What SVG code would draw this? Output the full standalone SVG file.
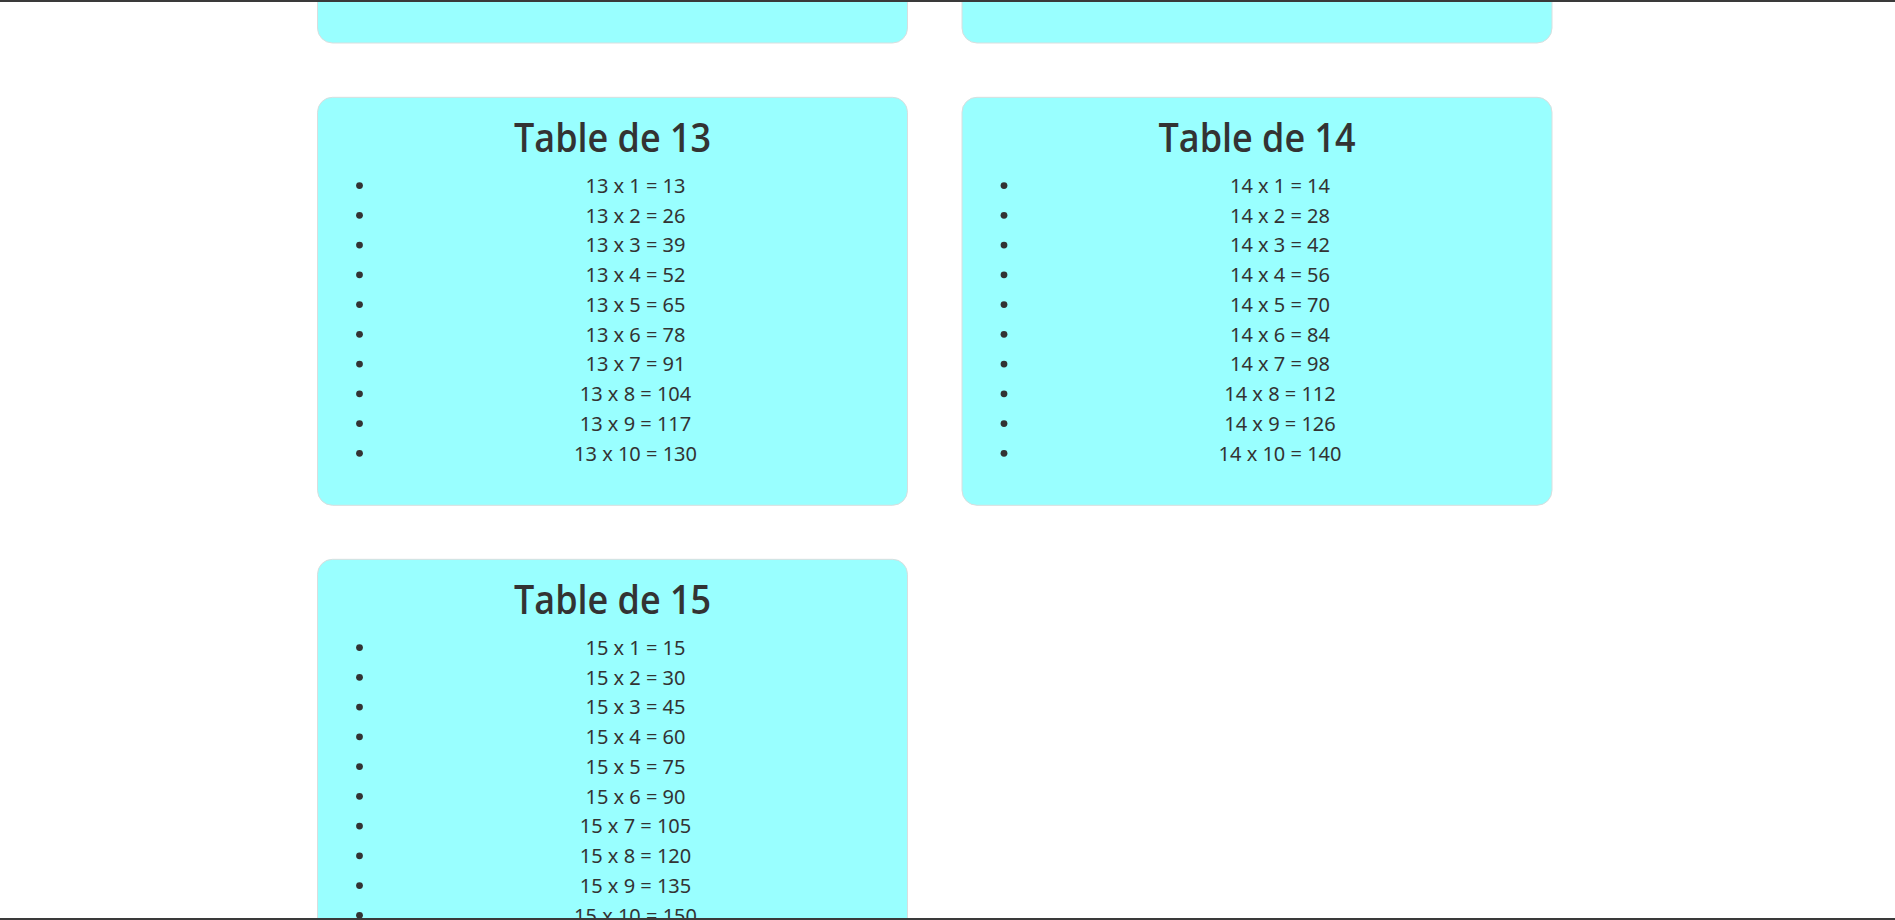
<svg xmlns="http://www.w3.org/2000/svg" width="1895" height="920" viewBox="0 0 1895 920">
<style>
.card{fill:#99ffff;stroke:#d9dede;stroke-width:1}
.title{font-family:"Open Sans","Noto Sans","Liberation Sans",sans-serif;font-size:40px;font-weight:600;fill:#333;text-anchor:middle}
.item{font-family:"Noto Sans","Open Sans","Liberation Sans",sans-serif;font-size:20px;fill:#333;text-anchor:middle}
.bullet{fill:#333}
.frame{fill:#3a3a3a}
</style>
<rect x="0" y="0" width="1895" height="920" fill="#ffffff"/>
<g id="card-top-left" transform="translate(317.5,-365)">
<rect class="card" x="0" y="0" width="590" height="408" rx="15"/>
</g>
<g id="card-top-right" transform="translate(962,-365)">
<rect class="card" x="0" y="0" width="590" height="408" rx="15"/>
</g>
<g id="table-13" transform="translate(317.5,97.3)">
<rect class="card" x="0" y="0" width="590" height="408" rx="15"/>
<text class="title" x="295" y="55" textLength="197" lengthAdjust="spacingAndGlyphs">Table de 13</text>
<circle class="bullet" cx="42" cy="88.3" r="3.4"/><text class="item" x="318" y="95.5">13 x 1 = 13</text>
<circle class="bullet" cx="42" cy="118.05" r="3.4"/><text class="item" x="318" y="125.25">13 x 2 = 26</text>
<circle class="bullet" cx="42" cy="147.8" r="3.4"/><text class="item" x="318" y="155">13 x 3 = 39</text>
<circle class="bullet" cx="42" cy="177.55" r="3.4"/><text class="item" x="318" y="184.75">13 x 4 = 52</text>
<circle class="bullet" cx="42" cy="207.3" r="3.4"/><text class="item" x="318" y="214.5">13 x 5 = 65</text>
<circle class="bullet" cx="42" cy="237.05" r="3.4"/><text class="item" x="318" y="244.25">13 x 6 = 78</text>
<circle class="bullet" cx="42" cy="266.8" r="3.4"/><text class="item" x="318" y="274">13 x 7 = 91</text>
<circle class="bullet" cx="42" cy="296.55" r="3.4"/><text class="item" x="318" y="303.75">13 x 8 = 104</text>
<circle class="bullet" cx="42" cy="326.3" r="3.4"/><text class="item" x="318" y="333.5">13 x 9 = 117</text>
<circle class="bullet" cx="42" cy="356.05" r="3.4"/><text class="item" x="318" y="363.25">13 x 10 = 130</text>
</g>
<g id="table-14" transform="translate(962,97.3)">
<rect class="card" x="0" y="0" width="590" height="408" rx="15"/>
<text class="title" x="295" y="55" textLength="197" lengthAdjust="spacingAndGlyphs">Table de 14</text>
<circle class="bullet" cx="42" cy="88.3" r="3.4"/><text class="item" x="318" y="95.5">14 x 1 = 14</text>
<circle class="bullet" cx="42" cy="118.05" r="3.4"/><text class="item" x="318" y="125.25">14 x 2 = 28</text>
<circle class="bullet" cx="42" cy="147.8" r="3.4"/><text class="item" x="318" y="155">14 x 3 = 42</text>
<circle class="bullet" cx="42" cy="177.55" r="3.4"/><text class="item" x="318" y="184.75">14 x 4 = 56</text>
<circle class="bullet" cx="42" cy="207.3" r="3.4"/><text class="item" x="318" y="214.5">14 x 5 = 70</text>
<circle class="bullet" cx="42" cy="237.05" r="3.4"/><text class="item" x="318" y="244.25">14 x 6 = 84</text>
<circle class="bullet" cx="42" cy="266.8" r="3.4"/><text class="item" x="318" y="274">14 x 7 = 98</text>
<circle class="bullet" cx="42" cy="296.55" r="3.4"/><text class="item" x="318" y="303.75">14 x 8 = 112</text>
<circle class="bullet" cx="42" cy="326.3" r="3.4"/><text class="item" x="318" y="333.5">14 x 9 = 126</text>
<circle class="bullet" cx="42" cy="356.05" r="3.4"/><text class="item" x="318" y="363.25">14 x 10 = 140</text>
</g>
<g id="table-15" transform="translate(317.5,559.3)">
<rect class="card" x="0" y="0" width="590" height="408" rx="15"/>
<text class="title" x="295" y="55" textLength="197" lengthAdjust="spacingAndGlyphs">Table de 15</text>
<circle class="bullet" cx="42" cy="88.3" r="3.4"/><text class="item" x="318" y="95.5">15 x 1 = 15</text>
<circle class="bullet" cx="42" cy="118.05" r="3.4"/><text class="item" x="318" y="125.25">15 x 2 = 30</text>
<circle class="bullet" cx="42" cy="147.8" r="3.4"/><text class="item" x="318" y="155">15 x 3 = 45</text>
<circle class="bullet" cx="42" cy="177.55" r="3.4"/><text class="item" x="318" y="184.75">15 x 4 = 60</text>
<circle class="bullet" cx="42" cy="207.3" r="3.4"/><text class="item" x="318" y="214.5">15 x 5 = 75</text>
<circle class="bullet" cx="42" cy="237.05" r="3.4"/><text class="item" x="318" y="244.25">15 x 6 = 90</text>
<circle class="bullet" cx="42" cy="266.8" r="3.4"/><text class="item" x="318" y="274">15 x 7 = 105</text>
<circle class="bullet" cx="42" cy="296.55" r="3.4"/><text class="item" x="318" y="303.75">15 x 8 = 120</text>
<circle class="bullet" cx="42" cy="326.3" r="3.4"/><text class="item" x="318" y="333.5">15 x 9 = 135</text>
<circle class="bullet" cx="42" cy="356.05" r="3.4"/><text class="item" x="318" y="363.25">15 x 10 = 150</text>
</g>
<g id="connectors"></g>
<rect class="frame" x="0" y="0" width="1895" height="2"/>
<rect class="frame" x="0" y="918" width="1895" height="2"/>
</svg>
